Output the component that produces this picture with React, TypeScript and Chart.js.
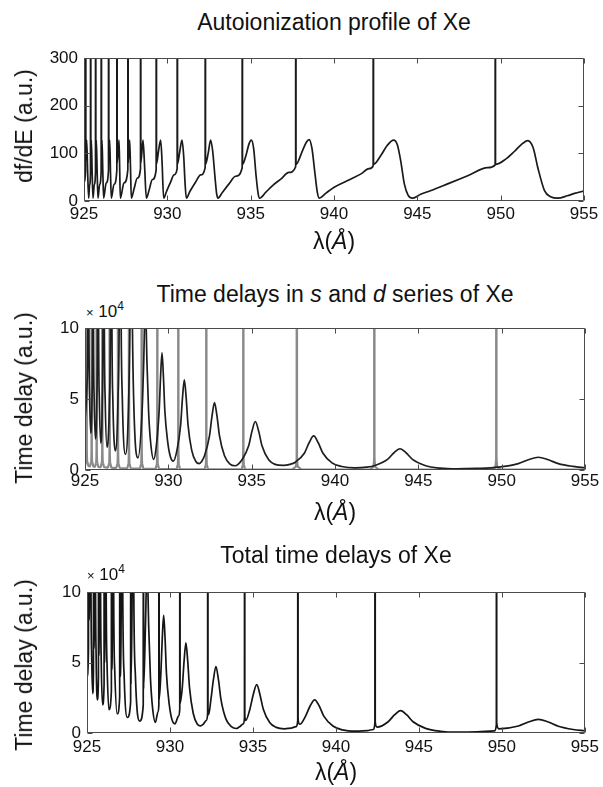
import React, { useEffect, useRef } from "react";
import { Chart, registerables } from "chart.js";

Chart.register(...registerables);

type Pt = [number, number];

// ---------- axis ticks ----------
const xTicks = [925, 930, 935, 940, 945, 950, 955];
const profileTicks = [0, 100, 200, 300];
const delayTicks = [0, 5, 10];

// ---------- Panel 1: autoionization profile df/dE (a.u.) vs wavelength (Å) ----------
const profilePoints: Pt[] = [
  [925.0, 40], [925.09, 62], [925.1, 3000], [925.11, 85], [925.16, 128], [925.22, 60], [925.28, 6],
  [925.34, 35], [925.39, 60], [925.4, 3000], [925.41, 85], [925.44, 128], [925.49, 60], [925.54, 6],
  [925.62, 35], [925.69, 62], [925.7, 3000], [925.71, 85], [925.74, 128], [925.79, 60], [925.84, 6],
  [925.94, 35], [926.03, 63], [926.04, 3000], [926.05, 85], [926.08, 128], [926.13, 60], [926.18, 6],
  [926.33, 38], [926.47, 64], [926.48, 3000], [926.49, 82], [926.54, 128], [926.59, 60], [926.64, 6],
  [926.8, 35], [926.97, 65], [926.98, 3000], [926.99, 80], [927.1, 128], [927.14, 70], [927.18, 6],
  [927.4, 38], [927.63, 66], [927.64, 3000], [927.65, 80], [927.74, 128], [927.79, 70], [927.84, 6],
  [928.0, 25], [928.2, 48], [928.39, 68], [928.4, 3000], [928.41, 80], [928.54, 128], [928.64, 70], [928.74, 6],
  [928.9, 22], [929.1, 45], [929.33, 66], [929.34, 3000], [929.35, 78], [929.47, 105], [929.6, 128], [929.68, 85], [929.78, 6],
  [929.95, 20], [930.2, 40], [930.4, 55], [930.59, 68], [930.6, 3000], [930.61, 78], [930.75, 105], [930.88, 128], [930.98, 95], [931.06, 40], [931.14, 6],
  [931.35, 20], [931.7, 40], [932.0, 55], [932.27, 70], [932.28, 3000], [932.29, 77], [932.45, 100], [932.6, 128], [932.72, 105], [932.86, 50], [932.96, 15], [933.04, 6],
  [933.3, 18], [933.7, 36], [934.1, 52], [934.49, 70], [934.5, 3000], [934.51, 77], [934.75, 100], [934.9, 120], [935.04, 128], [935.18, 110], [935.32, 55], [935.45, 15], [935.54, 6],
  [935.9, 18], [936.3, 32], [936.81, 46], [937.3, 60], [937.7, 72], [937.71, 3000], [937.72, 77], [938.1, 105], [938.35, 124], [938.51, 129], [938.68, 110], [938.85, 60], [939.0, 18], [939.11, 6],
  [939.5, 16], [940.01, 29], [940.82, 43], [941.62, 57], [942.1, 68], [942.35, 74], [942.36, 3000], [942.37, 77], [942.8, 95], [943.2, 117], [943.58, 128], [943.8, 118], [944.0, 85], [944.22, 36], [944.45, 12], [944.72, 6],
  [945.2, 14], [945.82, 22], [946.82, 36], [948.02, 53], [949.22, 70], [949.67, 76], [949.68, 3000], [949.69, 77], [950.3, 88], [950.82, 104], [951.22, 118], [951.63, 127], [951.95, 112], [952.23, 70], [952.63, 22], [953.0, 9], [953.43, 6], [954.0, 11], [954.43, 16], [955.0, 21],
];

// ---------- Panel 2: time delays (units of 10^4 a.u.) ----------
// s series (narrow resonances, grey)
const sSeriesDelay: Pt[] = [
  [925.0, 0.3], [925.06, 0.6], [925.092, 1.5], [925.1, 200], [925.108, 1.5], [925.14, 0.6], [925.2, 0.3],
  [925.3, 0.25], [925.36, 0.55], [925.392, 1.5], [925.4, 200], [925.408, 1.5], [925.44, 0.55], [925.5, 0.25],
  [925.6, 0.22], [925.66, 0.5], [925.692, 1.5], [925.7, 200], [925.708, 1.5], [925.74, 0.5], [925.8, 0.22],
  [925.94, 0.2], [926.0, 0.5], [926.032, 1.5], [926.04, 200], [926.048, 1.5], [926.08, 0.5], [926.14, 0.2],
  [926.38, 0.17], [926.44, 0.47], [926.472, 1.5], [926.48, 200], [926.488, 1.5], [926.52, 0.47], [926.58, 0.17],
  [926.88, 0.14], [926.94, 0.44], [926.972, 1.5], [926.98, 200], [926.988, 1.5], [927.02, 0.44], [927.08, 0.14],
  [927.54, 0.12], [927.6, 0.42], [927.632, 1.5], [927.64, 200], [927.648, 1.5], [927.68, 0.42], [927.74, 0.12],
  [928.3, 0.1], [928.36, 0.4], [928.392, 1.5], [928.4, 200], [928.408, 1.5], [928.44, 0.4], [928.5, 0.1],
  [929.24, 0.08], [929.3, 0.38], [929.332, 1.5], [929.34, 200], [929.348, 1.5], [929.38, 0.38], [929.44, 0.08],
  [930.5, 0.06], [930.56, 0.36], [930.592, 1.5], [930.6, 200], [930.608, 1.5], [930.64, 0.36], [930.7, 0.06],
  [932.18, 0.05], [932.24, 0.35], [932.272, 1.5], [932.28, 200], [932.288, 1.5], [932.32, 0.35], [932.38, 0.05],
  [934.4, 0.04], [934.46, 0.34], [934.492, 1.5], [934.5, 200], [934.508, 1.5], [934.54, 0.34], [934.6, 0.04],
  [937.41, 0.03], [937.61, 0.18], [937.7, 0.8], [937.71, 200], [937.72, 0.8], [937.81, 0.18], [938.01, 0.03],
  [942.06, 0.02], [942.26, 0.16], [942.35, 0.8], [942.36, 200], [942.37, 0.8], [942.46, 0.16], [942.66, 0.02],
  [949.38, 0.02], [949.58, 0.15], [949.67, 0.8], [949.68, 200], [949.69, 0.8], [949.78, 0.15], [949.98, 0.02],
  [955.0, 0.02],
];

// d series (broad resonances, dark)
const dSeriesDelay: Pt[] = [
  [925.0, 3.5], [925.12, 6], [925.17, 12], [925.2, 40], [925.23, 12], [925.28, 5], [925.34, 2.6],
  [925.42, 5], [925.455, 12], [925.48, 40], [925.505, 12], [925.55, 5], [925.62, 2.2],
  [925.71, 5], [925.75, 12], [925.78, 40], [925.81, 12], [925.86, 5], [925.94, 1.9],
  [926.04, 5], [926.085, 12], [926.12, 40], [926.155, 12], [926.21, 5], [926.32, 1.6],
  [926.47, 5], [926.53, 12], [926.57, 40], [926.61, 12], [926.67, 5], [926.82, 1.35],
  [926.98, 5], [927.06, 12], [927.11, 30], [927.16, 12], [927.24, 5], [927.43, 1.1],
  [927.62, 5], [927.71, 12], [927.77, 25], [927.83, 12], [927.92, 5], [928.18, 0.85],
  [928.42, 4], [928.52, 7.5], [928.62, 12], [928.72, 7.5], [928.82, 4], [928.95, 1.8], [929.12, 0.75],
  [929.28, 1.7], [929.45, 4.2], [929.535, 6.6], [929.62, 8.27], [929.705, 6.6], [929.79, 4.2], [929.96, 2.0], [930.12, 0.95], [930.3, 0.62],
  [930.52, 1.4], [930.74, 3.2], [930.85, 5.1], [930.96, 6.35], [931.07, 5.1], [931.18, 3.2], [931.4, 1.4], [931.65, 0.6], [931.85, 0.45],
  [932.0, 0.6], [932.17, 1.0], [932.47, 2.4], [932.62, 3.8], [932.77, 4.75], [932.92, 3.8], [933.07, 2.4], [933.37, 1.0], [933.7, 0.42], [934.0, 0.3],
  [934.2, 0.42], [934.42, 0.72], [934.82, 1.71], [935.02, 2.74], [935.22, 3.42], [935.42, 2.74], [935.62, 1.71], [936.02, 0.72], [936.4, 0.4], [936.9, 0.33],
  [937.3, 0.4], [937.62, 0.55], [938.17, 1.2], [938.445, 1.92], [938.72, 2.4], [938.995, 1.92], [939.27, 1.2], [939.82, 0.5], [940.4, 0.25], [941.2, 0.15],
  [941.9, 0.2], [942.4, 0.32], [943.15, 0.75], [943.525, 1.2], [943.9, 1.5], [944.275, 1.2], [944.65, 0.75], [945.4, 0.32], [946.3, 0.13], [947.3, 0.08],
  [948.5, 0.11], [949.8, 0.2], [951.0, 0.45], [951.6, 0.72], [952.2, 0.9], [952.8, 0.72], [953.4, 0.45], [954.3, 0.25], [955.0, 0.16],
];

// ---------- Panel 3: total time delay (units of 10^4 a.u.) ----------
const totalDelay: Pt[] = [
  [925.0, 4], [925.09, 6], [925.1, 200], [925.11, 8], [925.17, 14], [925.2, 48], [925.23, 14], [925.28, 5.5], [925.34, 2.8],
  [925.39, 4.5], [925.4, 200], [925.41, 6], [925.455, 14], [925.48, 40], [925.505, 14], [925.55, 5.5], [925.62, 2.35],
  [925.69, 4], [925.7, 200], [925.71, 5.5], [925.75, 13], [925.78, 40], [925.81, 13], [925.86, 5], [925.94, 2.0],
  [926.03, 3.5], [926.04, 200], [926.05, 5], [926.09, 12], [926.12, 40], [926.15, 12], [926.21, 4.8], [926.32, 1.65],
  [926.47, 3], [926.48, 200], [926.49, 4.5], [926.54, 12], [926.57, 40], [926.6, 12], [926.67, 4.5], [926.82, 1.35],
  [926.97, 2.6], [926.98, 200], [926.99, 4], [927.07, 11], [927.11, 30], [927.15, 11], [927.24, 4], [927.43, 1.1],
  [927.63, 2.2], [927.64, 200], [927.65, 3.5], [927.72, 10], [927.77, 25], [927.82, 10], [927.92, 4], [928.18, 0.85],
  [928.39, 2], [928.4, 200], [928.41, 3.2], [928.52, 7.5], [928.62, 12], [928.72, 7.5], [928.82, 4], [928.95, 1.8], [929.12, 0.75],
  [929.28, 1.5], [929.33, 2.0], [929.34, 200], [929.35, 2.4], [929.45, 4.2], [929.535, 6.7], [929.62, 8.35], [929.705, 6.7], [929.79, 4.2], [929.96, 2.0], [930.12, 0.95], [930.3, 0.65],
  [930.52, 1.2], [930.59, 1.7], [930.6, 200], [930.61, 2.1], [930.74, 3.2], [930.85, 5.1], [930.96, 6.4], [931.07, 5.1], [931.18, 3.2], [931.4, 1.4], [931.65, 0.62], [931.85, 0.5],
  [932.0, 0.62], [932.2, 0.9], [932.27, 1.4], [932.28, 200], [932.29, 1.5], [932.33, 1.3], [932.47, 2.4], [932.62, 3.8], [932.77, 4.72], [932.92, 3.8], [933.07, 2.4], [933.37, 1.0], [933.7, 0.45], [934.0, 0.32],
  [934.2, 0.45], [934.42, 0.65], [934.49, 1.1], [934.5, 200], [934.51, 1.2], [934.57, 0.9], [934.82, 1.71], [935.02, 2.74], [935.23, 3.43], [935.42, 2.74], [935.62, 1.71], [936.02, 0.72], [936.4, 0.4], [936.9, 0.3],
  [937.3, 0.35], [937.6, 0.45], [937.7, 0.9], [937.71, 200], [937.72, 1.0], [937.82, 0.62], [938.17, 1.2], [938.445, 1.92], [938.72, 2.35], [938.995, 1.92], [939.27, 1.2], [939.82, 0.5], [940.4, 0.22], [941.2, 0.13],
  [941.9, 0.17], [942.25, 0.25], [942.35, 0.7], [942.36, 200], [942.37, 0.8], [942.48, 0.42], [943.15, 0.8], [943.525, 1.28], [943.9, 1.59], [944.275, 1.28], [944.65, 0.8], [945.4, 0.33], [946.3, 0.12], [947.3, 0.06],
  [948.5, 0.08], [949.55, 0.15], [949.67, 0.6], [949.68, 200], [949.69, 0.7], [949.82, 0.3], [951.0, 0.5], [951.6, 0.78], [952.2, 0.97], [952.8, 0.78], [953.4, 0.48], [954.3, 0.25], [955.0, 0.16],
];

const FONT = '"Liberation Sans", Arial, Helvetica, sans-serif';
const TEXT = "#111";

const boxPlugin = {
  id: "matlabBox",
  afterDraw(chart: any) {
    const { ctx, chartArea: a, scales } = chart;
    const L = Math.round(a.left) + 0.5;
    const R = Math.round(a.right) - 0.5;
    const T = Math.round(a.top) + 0.5;
    const B = Math.round(a.bottom) - 0.5;
    const tl = 5;
    ctx.save();
    ctx.strokeStyle = "#4a4a4a";
    ctx.lineWidth = 1;
    ctx.beginPath();
    ctx.rect(L, T, R - L, B - T);
    for (const t of scales.x.ticks) {
      const px = Math.round(scales.x.getPixelForValue(t.value)) + 0.5;
      ctx.moveTo(px, B);
      ctx.lineTo(px, B - tl);
      ctx.moveTo(px, T);
      ctx.lineTo(px, T + tl);
    }
    for (const t of scales.y.ticks) {
      const py = Math.round(scales.y.getPixelForValue(t.value)) + 0.5;
      ctx.moveTo(L, py);
      ctx.lineTo(L + tl, py);
      ctx.moveTo(R, py);
      ctx.lineTo(R - tl, py);
    }
    ctx.stroke();
    ctx.restore();
  },
};

type Series = { points: Pt[]; color: string; width: number };

function Panel(props: {
  top: number;
  bottom: number;
  left: number;
  right: number;
  yMax: number;
  yTicks: number[];
  series: Series[];
  xPad: number;
}) {
  const { top, bottom, left, right, yMax, yTicks, series, xPad } = props;
  const ref = useRef<HTMLCanvasElement>(null);
  const padTop = 12;
  const axisH = 30;
  const height = bottom - top + padTop + axisH;

  useEffect(() => {
    const chart = new Chart(ref.current as HTMLCanvasElement, {
      type: "line",
      data: {
        datasets: series.map((s) => ({
          data: s.points.map(([x, y]) => ({ x, y })),
          borderColor: s.color,
          backgroundColor: s.color,
          borderWidth: s.width,
          pointRadius: 0,
          fill: false,
          cubicInterpolationMode: "monotone" as const,
        })),
      },
      options: {
        animation: false,
        responsive: false,
        events: [],
        layout: { padding: { top: padTop, right: 603 - right, left: 0, bottom: 0 } },
        plugins: {
          legend: { display: false },
          tooltip: { enabled: false },
          title: { display: false },
        },
        scales: {
          x: {
            type: "linear",
            min: 925,
            max: 955,
            afterBuildTicks: (s: any) => {
              s.ticks = xTicks.map((v) => ({ value: v }));
            },
            afterFit: (s: any) => {
              s.height = axisH;
            },
            grid: { display: false, drawTicks: false },
            border: { display: false },
            ticks: {
              padding: xPad,
              autoSkip: false,
              maxRotation: 0,
              color: TEXT,
              font: { family: FONT, size: 17 },
              callback: (v: any) => String(v),
            },
          },
          y: {
            type: "linear",
            min: 0,
            max: yMax,
            afterBuildTicks: (s: any) => {
              s.ticks = yTicks.map((v) => ({ value: v }));
            },
            afterFit: (s: any) => {
              s.width = left;
            },
            grid: { display: false, drawTicks: false },
            border: { display: false },
            ticks: {
              padding: 6,
              color: TEXT,
              font: { family: FONT, size: 17 },
              callback: (v: any) => String(v),
            },
          },
        },
      },
      plugins: [boxPlugin],
    } as any);
    return () => chart.destroy();
  }, []);

  return (
    <canvas
      ref={ref}
      width={603}
      height={height}
      style={{ position: "absolute", left: 0, top: top - padTop, width: 603, height }}
    />
  );
}

function Title(props: { cy: number; left: number; right: number; children: React.ReactNode }) {
  return (
    <div
      style={{
        position: "absolute",
        left: props.left,
        width: props.right - props.left,
        top: props.cy - 14,
        height: 28,
        lineHeight: "28px",
        textAlign: "center",
        fontFamily: FONT,
        fontSize: 23,
        color: TEXT,
        whiteSpace: "nowrap",
      }}
    >
      {props.children}
    </div>
  );
}

function YTitle(props: { cx: number; cy: number; children: React.ReactNode }) {
  return (
    <div
      style={{
        position: "absolute",
        left: props.cx,
        top: props.cy,
        transform: "translate(-50%, -50%) rotate(-90deg)",
        fontFamily: FONT,
        fontSize: 23,
        color: TEXT,
        whiteSpace: "nowrap",
        lineHeight: "26px",
      }}
    >
      {props.children}
    </div>
  );
}

function Exponent(props: { left: number; cy: number }) {
  return (
    <div
      style={{
        position: "absolute",
        left: props.left,
        top: props.cy - 10,
        height: 20,
        lineHeight: "20px",
        fontFamily: FONT,
        fontSize: 17,
        color: TEXT,
        whiteSpace: "nowrap",
      }}
    >
      <span style={{ fontSize: 13 }}>×</span>
      <span> 10</span>
      <span style={{ fontSize: 12, position: "relative", top: -7 }}>4</span>
    </div>
  );
}

const lambdaLabel = (
  <span>
    λ(<i>Å</i>)
  </span>
);

export default function App() {
  return (
    <div
      style={{
        position: "absolute",
        left: 0,
        top: 0,
        width: 603,
        height: 787,
        background: "#fff",
        overflow: "hidden",
      }}
    >
      {/* Panel 1 */}
      <Title cy={22} left={84} right={584}>Autoionization profile of Xe</Title>
      <Panel
        top={54}
        bottom={201}
        left={84}
        right={584}
        yMax={300}
        yTicks={profileTicks}
        xPad={3}
        series={[{ points: profilePoints, color: "#1a1a1a", width: 1.7 }]}
      />
      <Title cy={241} left={84} right={584}>{lambdaLabel}</Title>
      <YTitle cx={24} cy={126}>df/dE (a.u.)</YTitle>

      {/* Panel 2 */}
      <Title cy={294} left={85} right={585}>
        Time delays in <i>s</i> and <i>d</i> series of Xe
      </Title>
      <Exponent left={86} cy={312} />
      <Panel
        top={324}
        bottom={470}
        left={85}
        right={585}
        yMax={10}
        yTicks={delayTicks}
        xPad={1}
        series={[
          { points: dSeriesDelay, color: "#1e1e1e", width: 1.7 },
          { points: sSeriesDelay, color: "#8a8a8a", width: 2.2 },
        ]}
      />
      <Title cy={512} left={85} right={585}>{lambdaLabel}</Title>
      <YTitle cx={24} cy={398}>Time delay (a.u.)</YTitle>

      {/* Panel 3 */}
      <Title cy={555} left={87} right={585}>Total time delays of Xe</Title>
      <Exponent left={87} cy={575} />
      <Panel
        top={588}
        bottom={733}
        left={87}
        right={585}
        yMax={10}
        yTicks={delayTicks}
        xPad={4}
        series={[{ points: totalDelay, color: "#151515", width: 1.7 }]}
      />
      <Title cy={772} left={87} right={585}>{lambdaLabel}</Title>
      <YTitle cx={24} cy={665}>Time delay (a.u.)</YTitle>
    </div>
  );
}
